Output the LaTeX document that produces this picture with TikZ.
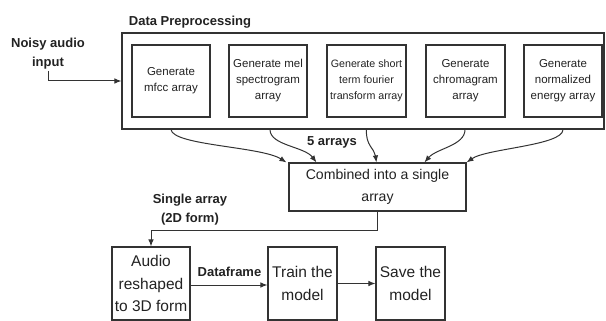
\documentclass[tikz,border=0pt]{standalone}
\usepackage{fontspec}
\setmainfont{Liberation Sans}
\usetikzlibrary{arrows.meta,calc}
\definecolor{ln}{HTML}{333333}
\definecolor{tx}{HTML}{222222}
\begin{document}
\begin{tikzpicture}[x=1pt,y=-1pt,
  every node/.style={text=tx},
  frame/.style={draw=ln,line width=1.1pt,inner sep=0pt},
  genbox/.style={frame,minimum width=78pt,minimum height=72pt,align=center,font=\fontsize{11.5}{16}\selectfont},
  bigbox/.style={frame,minimum height=73pt,align=center,font=\fontsize{15.5}{22.5}\selectfont},
  lbl/.style={align=center,font=\bfseries\fontsize{13}{19}\selectfont},
  conn/.style={draw=ln,line width=1pt,-{Latex[length=7pt,width=5.5pt]}}]
\useasboundingbox (0,0) rectangle (606,321);
% outer
\node[frame,minimum width=482pt,minimum height=96pt] (outer) at (363,81) {};
\node[lbl] (dp) at (190,22) {Data Preprocessing};
\node[genbox] (b1) at (171,81) {Generate\\mfcc array};
\node[genbox] (b2) at (268,81) {Generate mel\\spectrogram\\array};
\node[genbox,minimum width=79pt,font=\fontsize{10.7}{16}\selectfont] (b3) at (366.5,81) {Generate short\\term fourier\\transform array};
\node[genbox,minimum width=79pt] (b4) at (465.5,81) {Generate\\chromagram\\array};
\node[genbox] (b5) at (563,81) {Generate\\normalized\\energy array};
% input
\node[lbl,inner sep=1pt] (noisy) at (48,54) {Noisy audio\\input};
\draw[conn] (noisy.south) |- (outer.west);
% combined
\node[frame,minimum width=177pt,minimum height=48pt,align=center,font=\fontsize{14.1}{22}\selectfont] (comb) at (377.5,187) {Combined into a single\\array};
\node[lbl] (five) at (332,142) {5 arrays};
\coordinate (s1) at (b1.south |- outer.south);
\coordinate (s2) at ($(b2.south |- outer.south)+(2,0)$);
\coordinate (s3) at (b3.south |- outer.south);
\coordinate (s4) at ($(b4.south |- outer.south)+(-0.5,0)$);
\coordinate (s5) at (b5.south |- outer.south);
\coordinate (e1) at ($(comb.north west)+(-2,0)$);
\coordinate (e2) at ($(comb.north west)+(28,0)$);
\coordinate (e3) at ($(comb.north west)+(88,0)$);
\coordinate (e4) at ($(comb.north west)+(136,0)$);
\coordinate (e5) at (comb.north east);
\draw[conn] (s1) .. controls ($(s1)+(2,16)$) and ($(e1)+(-25,-16)$) .. (e1);
\draw[conn] (s2) .. controls ($(s2)+(0,16)$) and ($(e2)+(-12,-16)$) .. (e2);
\draw[conn] (s3) .. controls ($(s3)+(-1,16)$) and ($(e3)+(-2,-14)$) .. (e3);
\draw[conn] (s4) .. controls ($(s4)+(0,16)$) and ($(e4)+(12,-14)$) .. (e4);
\draw[conn] (s5) .. controls ($(s5)+(0,16)$) and ($(e5)+(20,-14)$) .. (e5);
% bottom row
\node[bigbox,minimum width=78pt] (audio) at (151,283.5) {Audio\\reshaped\\to 3D form};
\node[bigbox,minimum width=69pt] (train) at (302.5,283.5) {Train the\\model};
\node[bigbox,minimum width=69pt] (save) at (410.5,283.5) {Save the\\model};
\node[lbl] (single) at (190,210) {Single array\\(2D form)};
\coordinate (bend) at (377,230);
\draw[conn] (comb.south -| bend) -- (bend) -| (audio.north);
\node[lbl] (df) at (229.5,272) {Dataframe};
\draw[conn] ($(audio.east)+(0,1.5)$) -- ($(train.west)+(0,1.5)$);
\draw[conn] (train.east) -- (save.west);
\end{tikzpicture}
\end{document}
